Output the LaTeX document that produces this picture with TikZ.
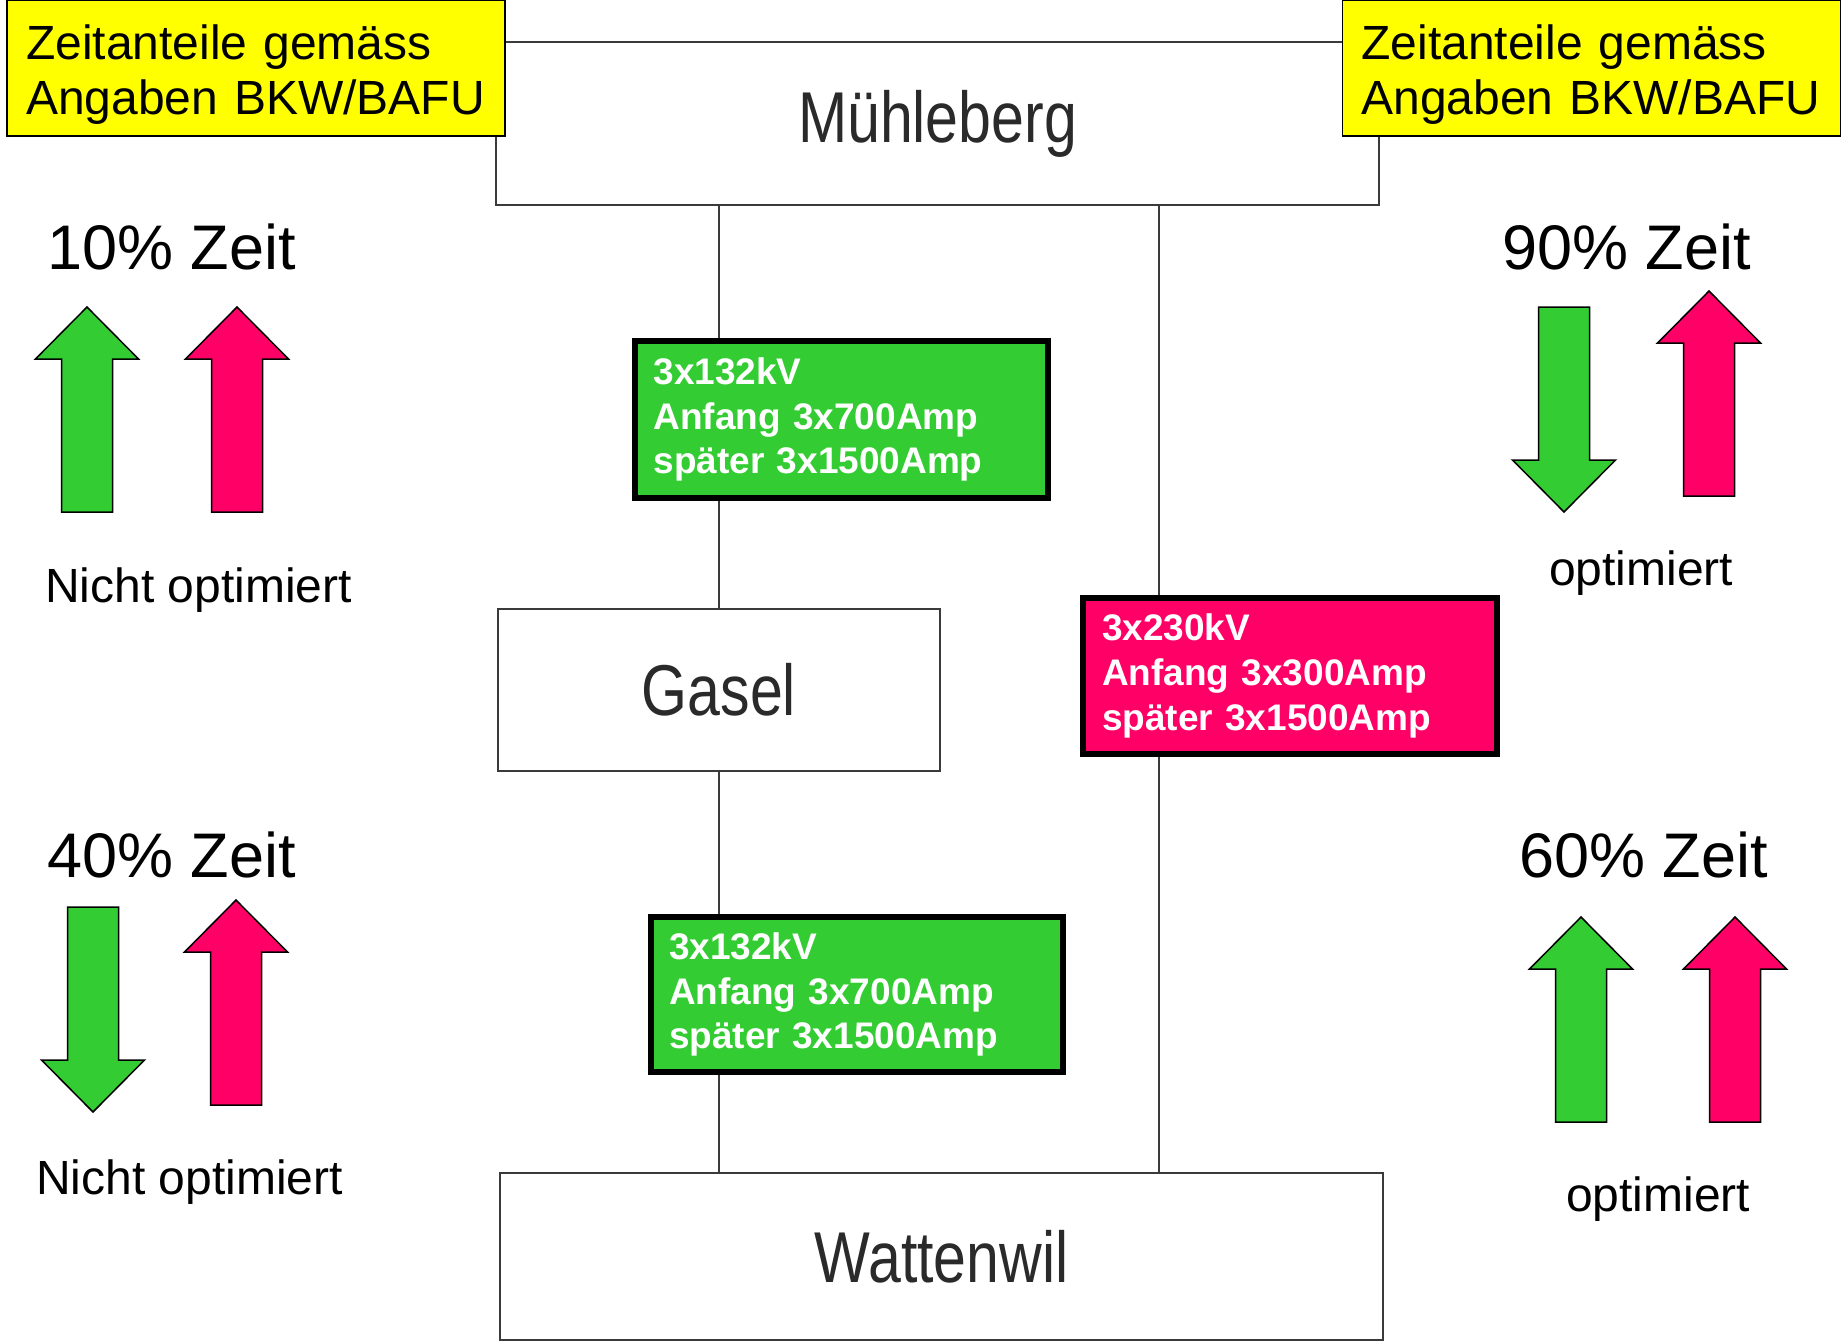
\documentclass[tikz,border=0pt]{standalone}
\usepackage{fontspec}
\setmainfont{Liberation Sans}
\usepackage{graphicx}
\definecolor{agreen}{HTML}{33CC33}
\definecolor{apink}{HTML}{FF0066}
\definecolor{ayellow}{HTML}{FFFF00}
\definecolor{stline}{HTML}{3A3A3A}
\definecolor{sttext}{HTML}{2A2A2A}
\newcommand\stname[1]{\scalebox{0.82}[1]{\fontsize{72}{80}\selectfont #1}}
\begin{document}
\begin{tikzpicture}[x=1pt,y=-1pt,
  station/.style={draw=stline, line width=2.5pt, fill=white, inner sep=0pt, text=sttext},
  infobox/.style={draw=black, line width=6pt, inner sep=0pt, text=white, align=left,
     text width=376pt, font=\bfseries\fontsize{37}{44.7}\selectfont},
  note/.style={draw=black, line width=1.5pt, fill=ayellow, inner sep=0pt, align=left,
     text width=460pt, minimum width=498pt, minimum height=136pt,
     font=\fontsize{48}{55}\selectfont},
  pct/.style={inner sep=0pt, anchor=base west, font=\fontsize{63}{70}\selectfont},
  lbl/.style={inner sep=0pt, anchor=base west, font=\fontsize{48}{55}\selectfont},
  conn/.style={draw=stline, line width=2.5pt},
  blockarrow/.pic={\draw[line width=1.5pt, fill=#1, line join=miter]
     (0,0) -- (51.5,52) -- (25.5,52) -- (25.5,205) -- (-25.5,205) -- (-25.5,52) -- (-51.5,52) -- cycle;}
]
\useasboundingbox[fill=white] (0,0) rectangle (1843,1342);

% stations
\node[station, minimum width=883pt, minimum height=163pt] (mb) at (937.5,123.5) {\stname{Mühleberg}};
\node[station, minimum width=442pt, minimum height=162pt] (gasel) at (719,690) {\stname{Gasel}};
\node[station, minimum width=883pt, minimum height=167pt] (watt) at (941.5,1256.5) {\stname{Wattenwil}};

% connectors
\coordinate (rl) at (1159,0);
\draw[conn] (gasel.north) -- (gasel.north |- mb.south);
\draw[conn] (gasel.south) -- (gasel.south |- watt.north);
\draw[conn] (mb.south -| rl) -- (watt.north -| rl);

% line data boxes
\node[infobox, fill=agreen, minimum width=413pt, minimum height=157pt] (g1) at (841.5,419.5)
  {3x132kV\\Anfang 3x700Amp\\später 3x1500Amp};
\node[infobox, fill=agreen, minimum width=412pt, minimum height=155pt] (g2) at (857,994.5)
  {3x132kV\\Anfang 3x700Amp\\später 3x1500Amp};
\node[infobox, fill=apink, minimum width=414pt, minimum height=156pt] (p1) at (1290,676)
  {3x230kV\\Anfang 3x300Amp\\später 3x1500Amp};

% notes
\node[note] (nl) at (256,68) {\rule{0pt}{47pt}Zeitanteile gemäss\\Angaben BKW/BAFU};
\node[note] (nr) at (1591.5,68) {\rule{0pt}{47pt}Zeitanteile gemäss\\Angaben BKW/BAFU};

% percentages
\node[pct] (t10) at (47,269) {10\% Zeit};
\node[pct] (t40) at (47,877) {40\% Zeit};
\node[pct] (t90) at (1502,269) {90\% Zeit};
\node[pct] (t60) at (1519,877) {60\% Zeit};

% labels
\node[lbl] (l1) at (45,602) {Nicht optimiert};
\node[lbl] (l2) at (36,1194) {Nicht optimiert};
\node[lbl] (l3) at (1549,585) {optimiert};
\node[lbl] (l4) at (1566,1211) {optimiert};

% arrows
\pic (a1) at (87,307) {blockarrow=agreen};
\pic (a2) at (237,307) {blockarrow=apink};
\pic[rotate=180] (a3) at (1564,512) {blockarrow=agreen};
\pic (a4) at (1709,291) {blockarrow=apink};
\pic[rotate=180] (a5) at (93,1112) {blockarrow=agreen};
\pic (a6) at (236,900) {blockarrow=apink};
\pic (a7) at (1581,917) {blockarrow=agreen};
\pic (a8) at (1735,917) {blockarrow=apink};
\end{tikzpicture}
\end{document}
